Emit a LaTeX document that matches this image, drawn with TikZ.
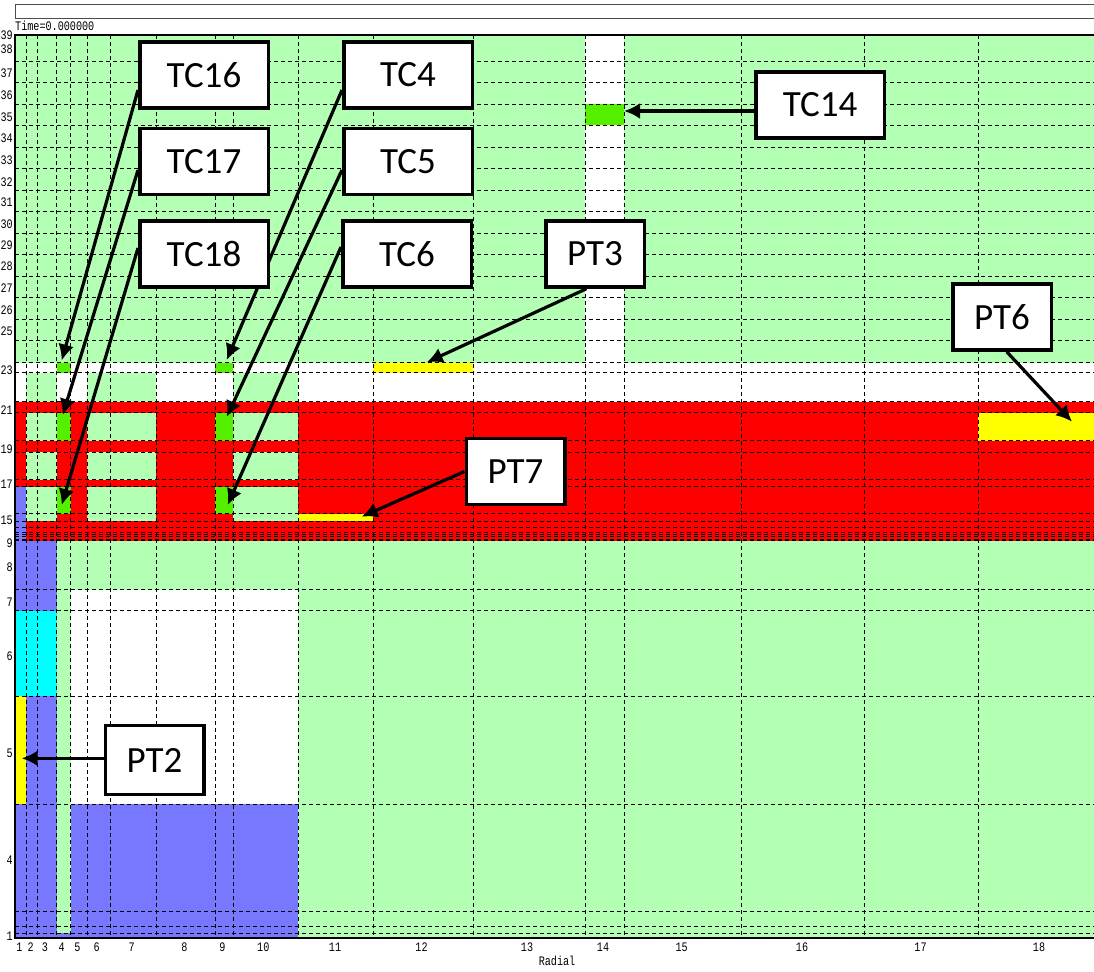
\documentclass[tikz,border=0pt]{standalone}
\usepackage{fontspec}
\usetikzlibrary{arrows.meta}
\newfontfamily\boxfont{Carlito}
\newfontfamily\axfont[FakeStretch=0.78]{Liberation Mono}
\definecolor{lgreen}{RGB}{179,255,179}
\definecolor{bgreen}{RGB}{85,240,0}
\definecolor{pblue}{RGB}{120,120,255}
\definecolor{pred}{RGB}{255,0,0}
\definecolor{pyellow}{RGB}{255,255,0}
\definecolor{pcyan}{RGB}{0,255,255}
\begin{document}
\begin{tikzpicture}[x=1pt,y=-1pt,
  gridline/.style={dash pattern=on 4pt off 3pt, line width=0.8pt, black},
  ylab/.style={anchor=east, inner sep=0pt, font=\axfont\fontsize{13}{13}\selectfont},
  xlab/.style={anchor=center, inner sep=0pt, font=\axfont\fontsize{13}{13}\selectfont},
  tcbox/.style={draw=black, fill=white, line width=3.5pt, inner sep=0pt,
    minimum width=128.5pt, minimum height=66pt, font=\boxfont\fontsize{37}{40}\selectfont},
  ptbox/.style={tcbox, minimum width=98.5pt},
  arr/.style={line width=3.2pt, -{Latex[length=16pt,width=16pt]}}]
\useasboundingbox (0,0) rectangle (1094,971);
\fill[white] (0,0) rectangle (1094,971);
% top bar
\draw[line width=0.8pt, black!70] (15,4) rectangle (1110,18);
\node[anchor=base west, inner sep=0pt, font=\axfont\fontsize{13}{13}\selectfont] (time) at (15,31) {Time=0.000000};
% base
\fill[lgreen] (15,35) rectangle (1094,938);
\fill[white] (585,35) rectangle (624,362.5);
% row 23 and 22
\fill[white] (15,362.5) rectangle (1094,401.5);
\fill[lgreen] (26,372.5) rectangle (56.5,401.5);
\fill[lgreen] (87,372.5) rectangle (156,401.5);
\fill[lgreen] (233,372.5) rectangle (298,401.5);
\fill[bgreen] (56.5,362.5) rectangle (70.5,372.5);
\fill[bgreen] (215,362.5) rectangle (233,372.5);
\fill[pyellow] (373,362.5) rectangle (473,372.5);
% red block
\fill[pred] (15,401.5) rectangle (1094,540.5);
\foreach \ya/\yb in {412.5/440.5, 452/479.5, 486.5/521}{
  \fill[lgreen] (26,\ya) rectangle (56.5,\yb);
  \fill[lgreen] (87,\ya) rectangle (156,\yb);
  \fill[lgreen] (233,\ya) rectangle (298,\yb);
}
\fill[bgreen] (56.5,412.5) rectangle (70.5,440.5);
\fill[bgreen] (215,412.5) rectangle (233,440.5);
\fill[bgreen] (56.5,486.5) rectangle (70.5,513.5);
\fill[bgreen] (215,486.5) rectangle (233,513.5);
\fill[pyellow] (978,412.5) rectangle (1094,440.5);
\fill[pyellow] (298,513.5) rectangle (373,521);
% lower part
\fill[pblue] (15,486.5) rectangle (26,610.5);
\fill[pblue] (26,540.5) rectangle (56.5,610.5);
\fill[pcyan] (15,610.5) rectangle (56.5,696);
\fill[pyellow] (15,696) rectangle (26,804);
\fill[pblue] (26,696) rectangle (56.5,804);
\fill[white] (70.5,589.5) rectangle (298,804);
\fill[pblue] (15,804) rectangle (56.5,938);
\fill[pblue] (70.5,804) rectangle (298,938);
\fill[pblue] (56.5,933) rectangle (70.5,938);
% TC14 cell
\fill[bgreen] (585,104) rectangle (624,125.5);
% grid
\foreach \x in {26,37,56.5,70.5,87,110,156,215,233,298,373,473,585,624,741,864,978}
  \draw[gridline] (\x,35) -- (\x,938);
\foreach \y in {61,82.5,104,125.5,147,168.5,190,211.5,233,254.5,276,297.5,319,340.5,362.5,372.5,401.5,412.5,440.5,452,479.5,486.5,513.5,521,527,532,534,536,539,540.5,589.5,610.5,696,804,911.5,926,933}
  \draw[gridline] (15,\y) -- (1094,\y);
% border
\draw[line width=2pt] (1094,35) -- (15,35) -- (15,938) -- (1094,938);
% axis labels
\foreach \t/\y in {39/35.5,38/49,37/73,36/95,35/117,34/138,33/160,32/182,31/202,30/224,29/245,28/266,27/288,26/310,25/331,23/370.5,21/410.5,19/449,17/484,15/520,9/543,8/567,7/602,6/656,5/753,4/860,1/936}
  \node[ylab] at (13,\y) {\t};
\foreach \t/\x in {1/19.5,2/30.7,3/45,4/61.7,5/77.3,6/96.7,7/131.7,8/184.3,9/222.3,10/263.3,11/335,12/421.5,13/527,14/603,15/681.6,16/802,17/920.5,18/1039}
  \node[xlab] at (\x,947) {\t};
\node[xlab] (radial) at (557,961) {Radial};
% targets
\coordinate (t16) at (61.7,360.5);
\coordinate (t17) at (62.7,415);
\coordinate (t18) at (61.7,505);
\coordinate (t4) at (226.7,360);
\coordinate (t5) at (226.7,417);
\coordinate (t6) at (227.7,505);
\coordinate (t3) at (426.8,362.3);
\coordinate (t14) at (624,111);
\coordinate (tp6) at (1072,421.7);
\coordinate (tp7) at (361.7,516.7);
\coordinate (tp2) at (21.7,758.3);
% boxes (placed first to get anchors)
\node[tcbox] (tc16) at (204,75) {TC16};
\node[tcbox] (tc17) at (204,161.5) {TC17};
\node[tcbox] (tc18) at (204,254) {TC18};
\node[tcbox] (tc4) at (408,75) {TC4};
\node[tcbox] (tc5) at (408,161.5) {TC5};
\node[tcbox] (tc6) at (407,254) {TC6};
\node[ptbox] (pt3) at (595,254) {PT3};
\node[tcbox] (tc14) at (820,105) {TC14};
\node[ptbox] (pt6) at (1002,317) {PT6};
\node[ptbox] (pt7) at (515.5,471.5) {PT7};
\node[ptbox, minimum height=69pt] (pt2) at (154.5,760) {PT2};
% arrows
\draw[arr] ([yshift=-15pt]tc16.west) -- (t16);
\draw[arr] ([yshift=-8.5pt]tc17.west) -- (t17);
\draw[arr] ([yshift=6pt]tc18.west) -- (t18);
\draw[arr] ([yshift=-15pt]tc4.west) -- (t4);
\draw[arr] ([yshift=-8.5pt]tc5.west) -- (t5);
\draw[arr] ([yshift=7pt]tc6.west) -- (t6);
\draw[arr] ([xshift=-8.6pt]pt3.south) -- (t3);
\draw[arr] ([yshift=-6pt]tc14.west) -- (t14);
\draw[arr] ([xshift=4.7pt]pt6.south) -- (tp6);
\draw[arr] (pt7.west) -- (tp7);
\draw[arr] ([yshift=1.7pt]pt2.west) -- (tp2);
% redraw boxes on top of arrows
\foreach \n/\s in {tc16/TC16,tc17/TC17,tc18/TC18,tc4/TC4,tc5/TC5,tc6/TC6,tc14/TC14}
  \node[tcbox] at (\n) {\s};
\foreach \n/\s in {pt3/PT3,pt6/PT6,pt7/PT7}
  \node[ptbox] at (\n) {\s};
\node[ptbox, minimum height=69pt] at (pt2) {PT2};
\end{tikzpicture}
\end{document}
